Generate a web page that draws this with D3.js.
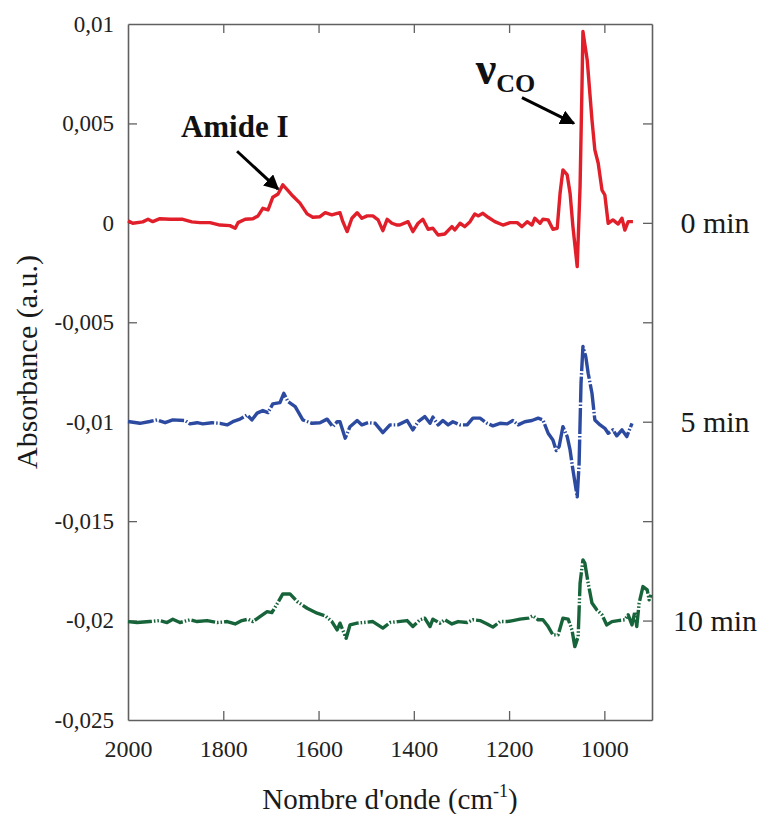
<!DOCTYPE html>
<html>
<head>
<meta charset="utf-8">
<script src="https://cdn.jsdelivr.net/npm/d3@7"></script>
<style>
  html, body { margin: 0; padding: 0; background: #fff; }
  svg { display: block; font-family: "Liberation Serif", "Times New Roman", serif; }
</style>
</head>
<body>
<svg id="chart" width="763" height="814"></svg>
<script>
// ---------------- DATA ----------------
const xTicks = [2000, 1800, 1600, 1400, 1200, 1000];
const yTicks = [0.01, 0.005, 0, -0.005, -0.01, -0.015, -0.02, -0.025];
const yTickLabels = ["0,01", "0,005", "0", "-0,005", "-0,01", "-0,015", "-0,02", "-0,025"];
const seriesNames = ["0 min", "5 min", "10 min"];
const seriesBaselines = [0, -0.01, -0.02];

const wn0 = [2000,1990,1969,1958,1948,1933,1912,1885,1866,1849,1828,1807,1786,1775,1769,1754,1738,1727,1717,1706,1696,1685,1675,1664,1654,1639,1624,1612,1597,1586,1572,1561,1555,1549,1540,1530,1519,1509,1498,1486,1475,1465,1456,1446,1435,1429,1412,1402,1391,1381,1370,1360,1349,1335,1320,1314,1303,1293,1282,1272,1265,1255,1244,1230,1213,1198,1183,1173,1162,1152,1146,1135,1129,1118,1108,1099,1093,1087,1078,1072,1066,1057,1051,1047,1045,1036,1026,1020,1013,1005,999,992,982,971,963,957,950,940];
const abs0 = [0.00010,-0.00002,0.00005,0.00018,0.00006,0.00021,0.00018,0.00018,0.00005,0.00001,0.00001,-0.00011,-0.00014,-0.00027,0.00001,0.00018,0.00021,0.00035,0.00073,0.00065,0.00129,0.00145,0.00191,0.00162,0.00135,0.00099,0.00045,0.00028,0.00031,0.00051,0.00040,0.00048,0.00051,0.00006,-0.00044,0.00023,0.00051,0.00023,0.00035,0.00035,0.00015,-0.00039,0.00018,-0.00002,-0.00011,-0.00011,0.00006,-0.00044,-0.00002,0.00018,-0.00032,-0.00027,-0.00061,-0.00056,-0.00019,-0.00036,-0.00002,-0.00019,0.00006,0.00045,0.00035,0.00048,0.00028,0.00006,-0.00011,0.00001,0.00001,-0.00019,0.00006,-0.00011,0.00023,-0.00002,0.00018,0.00015,-0.00032,-0.00027,0.00149,0.00266,0.00241,0.00149,-0.00019,-0.00220,0.00182,0.00685,0.00962,0.00819,0.00518,0.00367,0.00301,0.00165,0.00140,-0.00002,0.00015,-0.00006,0.00023,-0.00036,0.00006,0.00006];

const wn5 = [2000,1975,1954,1939,1922,1906,1880,1870,1855,1843,1824,1807,1792,1780,1765,1750,1740,1729,1717,1706,1696,1681,1673,1664,1649,1633,1614,1597,1582,1570,1561,1555,1544,1534,1519,1509,1496,1481,1465,1450,1433,1414,1402,1391,1377,1366,1360,1349,1339,1328,1318,1303,1288,1276,1261,1246,1234,1219,1204,1192,1181,1167,1152,1139,1129,1118,1108,1101,1095,1087,1078,1072,1066,1057,1053,1049,1045,1039,1034,1026,1020,1009,999,992,982,974,963,953,942];
const abs5 = [-0.00999,-0.01008,-0.00999,-0.00991,-0.01005,-0.00991,-0.00994,-0.01011,-0.01005,-0.01011,-0.01005,-0.01008,-0.01016,-0.01000,-0.00987,-0.00966,-0.00991,-0.00957,-0.00944,-0.00954,-0.00910,-0.00904,-0.00857,-0.00899,-0.00924,-0.00991,-0.01008,-0.01005,-0.00987,-0.01025,-0.01000,-0.01000,-0.01083,-0.01025,-0.00994,-0.01016,-0.01005,-0.01008,-0.01055,-0.01016,-0.01016,-0.00994,-0.01041,-0.01000,-0.00974,-0.01008,-0.00977,-0.01016,-0.00994,-0.01016,-0.01000,-0.01016,-0.01016,-0.00982,-0.00982,-0.01008,-0.01021,-0.01008,-0.01011,-0.00994,-0.01016,-0.01000,-0.00994,-0.00982,-0.00991,-0.01058,-0.01092,-0.01145,-0.01125,-0.01025,-0.01075,-0.01142,-0.01242,-0.01378,-0.01209,-0.00806,-0.00622,-0.00673,-0.00756,-0.00857,-0.00991,-0.01016,-0.01033,-0.01058,-0.01041,-0.01071,-0.01041,-0.01075,-0.01008];

const wn10 = [2000,1981,1954,1933,1918,1906,1891,1870,1855,1834,1813,1792,1775,1761,1748,1738,1723,1708,1698,1687,1675,1660,1645,1624,1603,1586,1572,1561,1555,1542,1534,1519,1507,1486,1465,1450,1433,1414,1402,1387,1377,1366,1360,1345,1335,1320,1307,1288,1276,1261,1246,1234,1219,1204,1192,1177,1160,1150,1139,1129,1118,1108,1097,1087,1076,1068,1062,1055,1051,1045,1041,1034,1026,1016,1005,995,984,971,957,950,942,936,932,927,919,910,906,902];
const abs10 = [-0.02005,-0.02010,-0.02005,-0.02000,-0.02010,-0.01993,-0.02010,-0.01996,-0.02005,-0.02000,-0.02010,-0.02005,-0.02017,-0.02000,-0.01993,-0.02005,-0.01980,-0.01955,-0.01960,-0.01916,-0.01866,-0.01866,-0.01904,-0.01938,-0.01963,-0.01976,-0.02005,-0.02047,-0.02013,-0.02089,-0.02022,-0.02013,-0.02010,-0.02005,-0.02038,-0.02010,-0.02005,-0.02000,-0.02030,-0.01996,-0.01988,-0.02030,-0.01993,-0.02013,-0.01996,-0.02017,-0.02005,-0.02010,-0.01996,-0.02000,-0.02017,-0.02033,-0.02005,-0.02005,-0.02000,-0.01993,-0.01988,-0.01976,-0.01996,-0.01996,-0.02030,-0.02072,-0.02072,-0.01988,-0.01993,-0.02047,-0.02131,-0.02080,-0.01812,-0.01695,-0.01711,-0.01812,-0.01912,-0.01946,-0.01971,-0.02022,-0.02005,-0.02000,-0.01996,-0.01971,-0.02022,-0.01955,-0.02030,-0.01912,-0.01829,-0.01846,-0.01896,-0.01870];

const seriesWn = [wn0, wn5, wn10];
const seriesAbs = [abs0, abs5, abs10];

// annotations in data coordinates
const annotText = ["Amide I", "\u03BD", "CO"];
const annotArrows = [
  {from: [1771, 0.0036], to: [1685, 0.0017]},
  {from: [1173, 0.0063], to: [1064, 0.0050]}
];
const annotTextPos = [[1889, 0.0043], [1270, 0.0070]];

// ---------------- LAYOUT / STYLE ----------------
const W = 763, H = 814;
const plot = {left: 128, right: 652, top: 24, bottom: 720};
const colors = ["#e11f2a", "#2c4a9f", "#17643a"];
const dashes = [null, "26,2,1.5,2", "24,2,1.5,2,1.5,2"];
const axisColor = "#606060";
const FONT = "'Liberation Serif', 'Times New Roman', serif";

const svg = d3.select("#chart");
const x = d3.scaleLinear().domain([2000, 900]).range([plot.left, plot.right]);
const y = d3.scaleLinear().domain([-0.025, 0.01]).range([plot.bottom, plot.top]);

const tickLen = 9;
// bottom axis (ticks inward)
const xAxisB = d3.axisBottom(x).tickValues(xTicks).tickSizeInner(-tickLen).tickSizeOuter(0).tickPadding(20).tickFormat(d3.format("d"));
const gxB = svg.append("g").attr("transform", `translate(0,${plot.bottom})`).call(xAxisB);
gxB.attr("font-family", FONT).selectAll("text").attr("font-size", 24).attr("fill", "#222");
// top axis
const xAxisT = d3.axisTop(x).tickValues(xTicks).tickSizeInner(-tickLen).tickSizeOuter(0).tickFormat("");
const gxT = svg.append("g").attr("transform", `translate(0,${plot.top})`).call(xAxisT);
// left axis
const yAxisL = d3.axisLeft(y).tickValues(yTicks).tickSizeInner(-tickLen).tickSizeOuter(0).tickPadding(14)
  .tickFormat((d, i) => yTickLabels[i]);
const gyL = svg.append("g").attr("transform", `translate(${plot.left},0)`).call(yAxisL);
gyL.attr("font-family", FONT).selectAll("text").attr("font-size", 23).attr("fill", "#222");
// right axis
const yAxisR = d3.axisRight(y).tickValues(yTicks).tickSizeInner(-tickLen).tickSizeOuter(0).tickFormat("");
const gyR = svg.append("g").attr("transform", `translate(${plot.right},0)`).call(yAxisR);

[gxB, gxT, gyL, gyR].forEach(g => {
  g.select(".domain").attr("stroke", axisColor).attr("stroke-width", 1.6);
  g.selectAll(".tick line").attr("stroke", axisColor).attr("stroke-width", 1.3);
});
// hide corner ticks
gxB.selectAll(".tick").filter(d => d === 2000).select("line").remove();
gxT.selectAll(".tick").filter(d => d === 2000).remove();
[gyL, gyR].forEach(g => g.selectAll(".tick").filter(d => d === 0.01 || d === -0.025).select("line").remove());

// series lines
const line = d3.line().x(d => x(d[0])).y(d => y(d[1]));
seriesWn.forEach((wn, i) => {
  const pts = wn.map((w, j) => [w, seriesAbs[i][j]]);
  const p = svg.append("path").datum(pts)
    .attr("d", line)
    .attr("fill", "none")
    .attr("stroke", colors[i])
    .attr("stroke-width", 3.4)
    .attr("stroke-linejoin", "round");
  if (dashes[i]) p.attr("stroke-dasharray", dashes[i]);
});

// series labels
svg.append("g").selectAll("text").data(seriesNames).join("text")
  .attr("x", 715)
  .attr("y", (d, i) => y(seriesBaselines[i]))
  .attr("dy", "0.35em")
  .attr("text-anchor", "middle")
  .attr("font-size", 30)
  .attr("fill", "#1a1a1a")
  .text(d => d);

// axis titles
const xt = svg.append("text").attr("x", (plot.left + plot.right) / 2).attr("y", 809)
  .attr("text-anchor", "middle").attr("font-size", 29).attr("fill", "#1a1a1a");
xt.append("tspan").text("Nombre d'onde (cm");
xt.append("tspan").attr("font-size", 18).attr("dy", -12).text("-1");
xt.append("tspan").attr("dy", 12).text(")");

svg.append("text")
  .attr("transform", `translate(37,${(plot.top + plot.bottom) / 2 - 10}) rotate(-90)`)
  .attr("text-anchor", "middle").attr("font-size", 30).attr("fill", "#1a1a1a")
  .text("Absorbance (a.u.)");

// annotations
const defs = svg.append("defs");
defs.append("marker").attr("id", "ah").attr("viewBox", "0 0 10 10")
  .attr("refX", 9).attr("refY", 5).attr("markerWidth", 5).attr("markerHeight", 5)
  .attr("markerUnits", "strokeWidth").attr("orient", "auto")
  .append("path").attr("d", "M0,0 L10,5 L0,10 Z").attr("fill", "#000");

annotArrows.forEach(a => {
  svg.append("line")
    .attr("x1", x(a.from[0])).attr("y1", y(a.from[1]))
    .attr("x2", x(a.to[0])).attr("y2", y(a.to[1]))
    .attr("stroke", "#000").attr("stroke-width", 3)
    .attr("marker-end", "url(#ah)");
});

svg.append("text").attr("x", x(annotTextPos[0][0])).attr("y", y(annotTextPos[0][1]))
  .attr("font-size", 31).attr("font-weight", "bold").attr("fill", "#111")
  .text(annotText[0]);

const nu = svg.append("text").attr("x", x(annotTextPos[1][0])).attr("y", y(annotTextPos[1][1]))
  .attr("font-weight", "bold").attr("fill", "#111");
nu.append("tspan").attr("font-size", 46).text(annotText[1]);
nu.append("tspan").attr("font-size", 26).attr("dy", 8).text(annotText[2]);
</script>
</body>
</html>
